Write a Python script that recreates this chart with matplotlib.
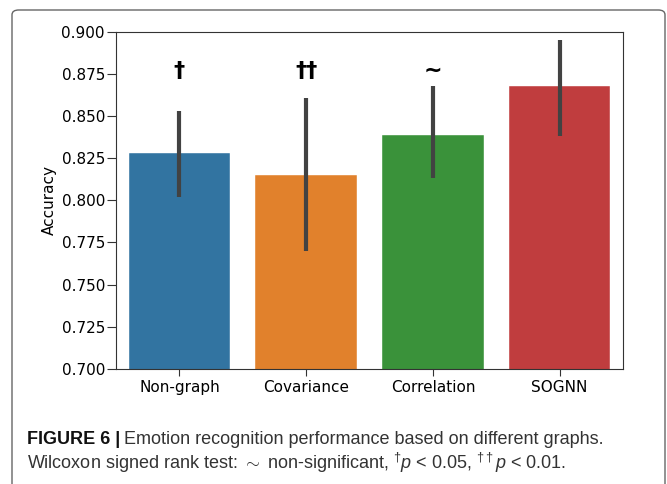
import matplotlib
matplotlib.use("Agg")
import matplotlib.pyplot as plt
from matplotlib.patches import FancyBboxPatch

plt.rcParams["mathtext.fontset"] = "custom"
plt.rcParams["mathtext.rm"] = "Liberation Sans"
plt.rcParams["mathtext.it"] = "Liberation Sans:italic"
plt.rcParams["mathtext.bf"] = "Liberation Sans:bold"

categories = ["Non-graph", "Covariance", "Correlation", "SOGNN"]
accuracy = [0.828, 0.815, 0.839, 0.868]
ci_low = [0.802, 0.770, 0.813, 0.838]
ci_high = [0.853, 0.861, 0.868, 0.895]
marks = ["†", "††", "~", ""]
colors = ["#3274a1", "#e1812c", "#3a923a", "#c03d3e"]

fig = plt.figure(figsize=(6.67, 4.84), dpi=100)
ax = fig.add_axes([0.174, 0.238, 0.760, 0.696])

x = list(range(len(categories)))
ax.bar(x, accuracy, width=0.8, color=colors, edgecolor="white", linewidth=0.3, zorder=2)
for xi, lo, hi in zip(x, ci_low, ci_high):
    ax.plot([xi, xi], [lo, hi], color="#424242", lw=3, solid_capstyle="butt", zorder=3)
for xi, mk in zip(x, marks):
    if mk:
        ax.text(xi, 0.877, mk, ha="center", va="center", fontsize=16, fontweight="bold",
                family="DejaVu Sans")

ax.set_xlim(-0.5, 3.5)
ax.set_ylim(0.700, 0.900)
yt = [0.700, 0.725, 0.750, 0.775, 0.800, 0.825, 0.850, 0.875, 0.900]
ax.set_yticks(yt)
ax.set_yticklabels([f"{v:.3f}" for v in yt], fontsize=11)
ax.set_xticks(x)
ax.set_xticklabels(categories, fontsize=11)
ax.set_ylabel("Accuracy", fontsize=11, labelpad=3)
for s in ax.spines.values():
    s.set_color("#333333")
ax.tick_params(axis="y", length=6.5, pad=1.5, color="#333333")
ax.tick_params(axis="x", length=5, pad=3, color="#333333")

border = FancyBboxPatch((12/667, -0.05), (665-12)/667, 1.05 - 10/484,
                        boxstyle="round,pad=0,rounding_size=0.01",
                        transform=fig.transFigure, fill=False, edgecolor="#666666",
                        linewidth=1.0, clip_on=False)
fig.patches.append(border)

cap_family = ["Liberation Sans", "DejaVu Sans"]
line1_y = 1 - 440/484
line2_y = 1 - 463/484
fs = 13
t1 = fig.text(27/667, line1_y, "FIGURE 6 |", fontsize=fs, fontweight="bold",
              family=cap_family, va="center", ha="left", color="#111111")
fig.canvas.draw()
r = fig.canvas.get_renderer()
bb = t1.get_window_extent(r)
fig.text((bb.x1 + 4)/667, line1_y,
         "Emotion recognition performance based on different graphs.",
         fontsize=fs, family=cap_family, va="center", ha="left", color="#333333")
fig.text(27/667, line2_y,
         r"Wilcoxon signed rank test: $\sim$ non-significant, $^{\dagger}p$ < 0.05, $^{\dagger\dagger}p$ < 0.01.",
         fontsize=fs, family=cap_family, va="center", ha="left", color="#333333")

fig.savefig("out.png", dpi=100)
